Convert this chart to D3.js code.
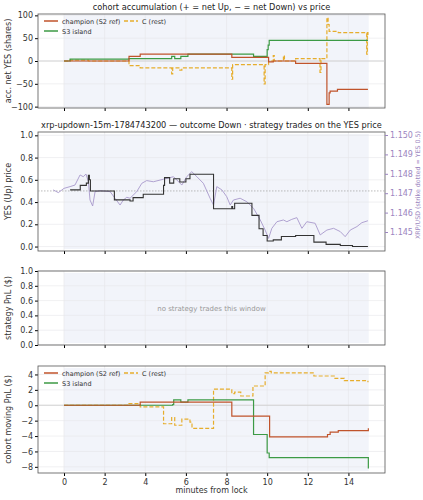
<!DOCTYPE html><html><head><script src="https://cdn.jsdelivr.net/npm/d3@7"></script>
<style>body{margin:0;background:#fff}text{font-family:"DejaVu Sans",sans-serif}</style></head><body><svg id="c" width="423" height="500"></svg>
<script>
const champAcc=[[0,0],[3.2,10],[3.75,15],[8.26,8],[10.07,-2],[10.3,0],[11.4,-5],[12.94,-95],[13.05,-70],[13.1,-66],[13.46,-62],[14.96,-62]];
const s3Acc=[[0,0],[0.3,4],[3.2,5],[5.3,10],[5.45,5],[5.75,10],[6.1,15],[9.33,10],[10.0,25],[10.05,35],[10.1,45],[14.96,45]];
const cAcc=[[0,0],[0.3,2],[1.2,0],[3.2,-10],[3.75,-15],[5.3,-28],[5.35,-15],[5.7,-20],[5.8,-15],[8.26,-40],[8.3,-8],[9.85,-50],[9.9,-8],[10.07,0],[10.3,12],[10.35,0],[10.8,12],[10.85,0],[11.4,5],[12.6,-25],[12.65,5],[12.94,95],[13.0,80],[13.05,65],[13.5,62],[14.9,15],[14.93,62],[14.96,55]];
const yesPrice=[[0.3,0.51],[0.8,0.55],[1.1,0.57],[1.2,0.64],[1.25,0.6],[1.3,0.5],[2.48,0.42],[3.25,0.41],[3.4,0.44],[3.9,0.47],[4.9,0.55],[4.95,0.62],[5.2,0.57],[5.4,0.61],[5.7,0.58],[6.0,0.61],[6.2,0.65],[7.36,0.34],[8.26,0.36],[8.3,0.34],[8.4,0.39],[9.25,0.28],[9.6,0.16],[9.8,0.1],[10.0,0.05],[10.3,0.06],[10.7,0.09],[11.4,0.1],[12.3,0.04],[12.9,0.02],[13.6,0.01],[14.2,0.0],[14.96,0.0]];
const xrpT=[-0.53,-0.28,0,0.3,0.54,0.79,0.95,1.08,1.2,1.28,1.41,1.53,1.77,2.27,2.51,2.76,2.92,3.09,3.25,3.58,3.83,4.07,4.4,4.89,5.39,5.8,6.04,6.29,6.54,6.86,7.19,7.36,7.52,7.77,8.01,8.18,8.34,8.67,9.0,9.33,9.66,9.9,10.07,10.23,10.48,10.8,10.97,11.21,11.46,11.71,11.95,12.36,12.61,12.94,13.27,13.6,13.84,14.09,14.42,14.66,14.96];
const xrpV=[1.14717,1.14703,1.14725,1.14734,1.14742,1.14794,1.14785,1.14799,1.14759,1.14665,1.14634,1.14708,1.14713,1.14708,1.14674,1.14639,1.14665,1.14679,1.14674,1.14708,1.14751,1.14765,1.14759,1.14772,1.14785,1.14742,1.14785,1.14811,1.14785,1.14751,1.14674,1.14639,1.14734,1.14717,1.14682,1.14639,1.14665,1.14674,1.14656,1.14622,1.14562,1.1451,1.14467,1.14519,1.14553,1.14562,1.14553,1.14565,1.14574,1.14519,1.14553,1.14545,1.14485,1.1451,1.14519,1.14502,1.14476,1.1451,1.14528,1.14548,1.14558];
const champPnl=[[0,0],[3.75,0.4],[8.26,-1.4],[10.12,-4.1],[12.97,-3.8],[13.1,-3.5],[13.5,-3.3],[14.96,-3.3],[14.98,-3.0]];
const s3Pnl=[[0,0],[5.35,0.1],[5.4,0.7],[5.75,0.4],[6.1,0.7],[9.33,-3.8],[10.0,-6.2],[10.1,-6.8],[14.96,-6.8],[14.98,-8.2]];
const cPnl=[[0,0],[3.2,0.2],[3.75,-0.2],[4.9,-2.4],[5.3,-1.6],[5.45,-2.6],[5.8,-1.8],[6.2,-2.2],[6.3,-3.0],[7.36,2.1],[8.26,1.5],[8.4,1.7],[8.7,1.2],[9.3,2.5],[9.9,4.2],[10.07,4.4],[10.2,4.2],[12.3,3.8],[13.3,3.5],[13.8,3.2],[14.96,3.0]];
const xTicks=[0,2,4,6,8,10,12,14];
const C1="#c0532b",C2="#3c9a45",C3="#e6ad2c";
const svg=d3.select("#c");
const L=38,R=385;
const x=d3.scaleLinear().domain([-1.28,15.8]).range([L,R]);
function panel(top,bot,dom,ticks,fmt,ylabel,title,showX,inset){
  const y=d3.scaleLinear().domain(dom).range([bot,top]);
  const g=svg.append("g");
  const ins=inset||0;
  g.append("rect").attr("x",x(0)).attr("y",top+ins).attr("width",x(15)-x(0)).attr("height",bot-top-2*ins).attr("fill","#f2f4fa");
  xTicks.forEach(t=>g.append("line").attr("x1",x(t)).attr("x2",x(t)).attr("y1",top).attr("y2",bot).attr("stroke","#e6e6ea").attr("stroke-width",0.6));
  ticks.forEach(t=>g.append("line").attr("x1",L).attr("x2",R).attr("y1",y(t)).attr("y2",y(t)).attr("stroke","#e6e6ea").attr("stroke-width",0.6));
  const ya=g.append("g").attr("transform",`translate(${L},0)`).call(d3.axisLeft(y).tickValues(ticks).tickFormat(fmt).tickSize(3).tickPadding(2));
  ya.select(".domain").remove();ya.selectAll("text").attr("font-size",8).attr("fill","#333");
  const xa=g.append("g").attr("transform",`translate(0,${bot})`).call(d3.axisBottom(x).tickValues(xTicks).tickSize(3).tickFormat(showX?d3.format("d"):""));
  xa.select(".domain").remove();xa.selectAll("text").attr("font-size",8).attr("fill","#333");
  g.append("rect").attr("x",L).attr("y",top).attr("width",R-L).attr("height",bot-top).attr("fill","none").attr("stroke","#555").attr("stroke-width",0.8);
  g.append("text").attr("transform",`translate(11,${(top+bot)/2}) rotate(-90)`).attr("text-anchor","middle").attr("font-size",8).attr("fill","#333").text(ylabel);
  if(title)g.append("text").attr("x",(L+R)/2).attr("y",top-4).attr("text-anchor","middle").attr("font-size",8.2).attr("fill","#222").text(title);
  return y;
}
const line=(y)=>d3.line().x(d=>x(d[0])).y(d=>y(d[1])).curve(d3.curveStepAfter);
function legend(x0,y0){
  const it=[[C1,"champion (S2 ref)",0,0,null],[C2,"S3 island",0,1,null],[C3,"C (rest)",1,0,"4,2"]];
  it.forEach(([c,t,col,row,da])=>{const xx=x0+col*80,yy=y0+row*10;
    svg.append("line").attr("x1",xx).attr("x2",xx+14).attr("y1",yy).attr("y2",yy).attr("stroke",c).attr("stroke-width",1.5).attr("stroke-dasharray",da);
    svg.append("text").attr("x",xx+18).attr("y",yy+2.5).attr("font-size",6.5).attr("fill","#333").text(t);});
}
// panel 1
const y1=panel(14,108,[-103,103],[-100,-50,0,50,100],d3.format("d"),"acc. net YES (shares)","cohort accumulation (+ = net Up, − = net Down) vs price",false);
svg.append("line").attr("x1",L).attr("x2",R).attr("y1",y1(0)).attr("y2",y1(0)).attr("stroke","#ccc").attr("stroke-width",0.8);
[[cAcc,C3,"4,2"],[s3Acc,C2,null],[champAcc,C1,null]].forEach(([d,c,da])=>svg.append("path").attr("d",line(y1)(d)).attr("fill","none").attr("stroke",c).attr("stroke-width",1.2).attr("stroke-dasharray",da));
legend(44,21);
// panel 2
const y2=panel(132,251,[-0.04,1.03],[0,0.2,0.4,0.6,0.8,1.0],d3.format(".1f"),"YES (Up) price","xrp-updown-15m-1784743200 — outcome Down · strategy trades on the YES price",false,2);
const yr=d3.scaleLinear().domain([1.145,1.150]).range([232,135]);
const ra=svg.append("g").attr("transform",`translate(${R},0)`).call(d3.axisRight(yr).tickValues([1.145,1.146,1.147,1.148,1.149,1.150]).tickFormat(d3.format(".3f")).tickSize(3).tickPadding(2));
ra.select(".domain").remove();ra.selectAll("text").attr("font-size",8).attr("fill","#9b85c0");ra.selectAll("line").attr("stroke","#9b85c0");
svg.append("text").attr("transform",`translate(420,185) rotate(-90)`).attr("text-anchor","middle").attr("font-size",6.3).attr("fill","#9b85c0").text("XRP/USD (strike dotted = YES 0.5)");
svg.append("line").attr("x1",L).attr("x2",R).attr("y1",y2(0.5)).attr("y2",y2(0.5)).attr("stroke","#aaa").attr("stroke-width",0.8).attr("stroke-dasharray","1.5,1.5");
svg.append("path").attr("d",d3.line().x((d,i)=>x(xrpT[i])).y(d=>yr(d))(xrpV)).attr("fill","none").attr("stroke","#a898cc").attr("stroke-width",0.9);
svg.append("path").attr("d",line(y2)(yesPrice)).attr("fill","none").attr("stroke","#333").attr("stroke-width",1.1);
// panel 3
const y3=panel(271,345,[0,1],[0,0.2,0.4,0.6,0.8,1.0],d3.format(".1f"),"strategy PnL ($)",null,false,2);
svg.append("text").attr("x",(L+R)/2).attr("y",y3(0.5)+3).attr("text-anchor","middle").attr("font-size",7).attr("fill","#999").text("no strategy trades this window");
// panel 4
const y4=panel(366,473,[-8.8,5.1],[-8,-6,-4,-2,0,2,4],d3.format("d"),"cohort moving PnL ($)",null,true,2);
svg.append("line").attr("x1",L).attr("x2",R).attr("y1",y4(0)).attr("y2",y4(0)).attr("stroke","#ccc").attr("stroke-width",0.8);
[[cPnl,C3,"4,2"],[s3Pnl,C2,null],[champPnl,C1,null]].forEach(([d,c,da])=>svg.append("path").attr("d",line(y4)(d)).attr("fill","none").attr("stroke",c).attr("stroke-width",1.2).attr("stroke-dasharray",da));
legend(44,373);
svg.append("text").attr("x",(L+R)/2).attr("y",493).attr("text-anchor","middle").attr("font-size",8).attr("fill","#333").text("minutes from lock");
</script></body></html>
